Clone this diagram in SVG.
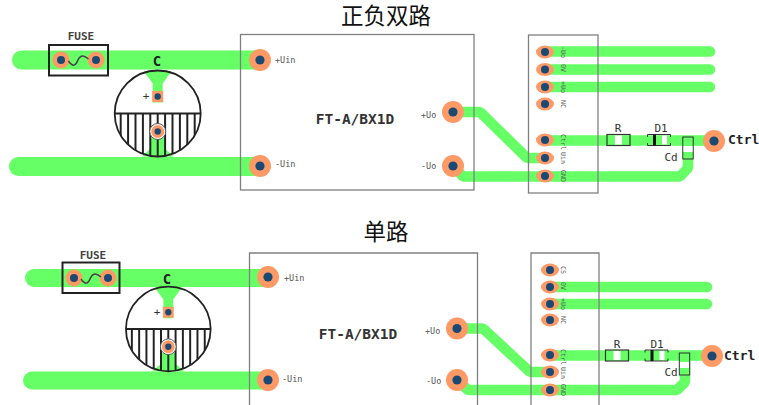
<svg xmlns="http://www.w3.org/2000/svg" width="759" height="405" viewBox="0 0 759 405">
<style>
.bg{fill:#fff}
.t{fill:none;stroke:#66ff66;stroke-linecap:round;stroke-linejoin:bevel}
.w19{stroke-width:19}.w18{stroke-width:18}.w10{stroke-width:10.5}
.box{fill:none;stroke:#808080;stroke-width:1.3}
.blk{fill:none;stroke:#222;stroke-width:2}
.title{font-family:"Liberation Sans","Noto Sans CJK SC",sans-serif;font-size:22.5px;fill:#111;text-anchor:middle}
.m{font-family:"DejaVu Sans Mono","Liberation Mono",monospace;fill:#333}
.small{font-size:8.500px;fill:#555}
.pin{font-size:6.600px;fill:#555}
.fuse{font-size:11px;fill:#444;text-anchor:middle;font-weight:bold}
.bold{font-weight:bold;fill:#222}
.ft{font-size:14.500px;font-weight:bold;fill:#333;text-anchor:middle}
.cap{font-size:14px;font-weight:bold;fill:#222;text-anchor:middle}
.lbl{font-size:11px;fill:#333;text-anchor:middle}
.or{fill:#ff9966}.nv{fill:#1a4a73}
</style>
<defs>
<g id="padL"><circle r="11" class="or"/><circle r="4.600" class="nv"/></g>
<g id="padM"><circle r="8.500" class="or"/><circle r="4" class="nv"/></g>
<g id="padO"><ellipse rx="9" ry="6.500" class="or"/><circle r="4" class="nv"/></g>
<g id="fuseWave"><path d="M-10 2C-6 8-3 7-1 2S4-5 10 0" fill="none" stroke="#444" stroke-width="1.500"/></g>
<clipPath id="hatch"><path d="M-43 0H43A43 43 0 0 1-43 0Z"/></clipPath>
<g id="capBody">
<path d="M-14-42.500H14L5-30V-11H-5V-30Z" fill="#66ff66"/>
<path d="M-7 24V35L-16 43H16L7 35V24Z" fill="#66ff66"/>
<circle r="43" fill="none" stroke="#222" stroke-width="1.800"/>
<path d="M-43 0H43" stroke="#222" stroke-width="1.800"/>
<path clip-path="url(#hatch)" d="M-37 0V44M-29.600 0V44M-22.200 0V44M-14.800 0V44M-7.400 0V44M0 0V44M7.400 0V44M14.800 0V44M22.200 0V44M29.600 0V44M37 0V44" fill="none" stroke="#222" stroke-width="2"/>
<rect x="-5.500" y="-22.500" width="11" height="11" class="or"/><circle cy="-17" r="3.200" class="nv"/>
<circle cy="18" r="8" fill="#fff" stroke="#555" stroke-width="1"/>
<circle cy="18" r="6.500" class="or"/><circle cy="18" r="3.200" class="nv"/>
</g>
<g id="rPart"><rect x="-11.500" y="-5.500" width="23" height="11" fill="none" stroke="#333" stroke-width="1.200"/><rect x="-3.500" y="-4.500" width="7" height="9" fill="#fff"/></g>
<g id="dPart"><path d="M-7-5.500H-11.500V-3M-11.500 3V5.500H-7M7-5.500H11.500V-3M11.500 3V5.500H7M-7-5.500H7M-7 5.500H7" fill="none" stroke="#333" stroke-width="1"/><rect x="-6" y="-5.500" width="3" height="11" fill="#111"/><rect x="3" y="-4.500" width="5" height="9" fill="#fff"/></g>
<g id="cPart"><rect x="-5.200" y="-11" width="10.400" height="22" fill="none" stroke="#333" stroke-width="1"/><rect x="-4.500" y="-2" width="9" height="6" fill="#fff"/></g>
</defs>
<rect class="bg" width="759" height="405"/>
<text class="title" x="386" y="24">正负双路</text>
<text class="title" x="386" y="240">单路</text>

<g id="connectors">
<path class="t w19" d="M21.500 60H260"/>
<path class="t w19" d="M18.500 166.500H260"/>
<path class="t w10" d="M453 112H480L527 158H545"/>
<path class="t w10" d="M453 166L463 176.500H680L688 168V141"/>
<path class="t w10" d="M545 51.500H710"/>
<path class="t w10" d="M545 69.500H710"/>
<path class="t w10" d="M545 87H710"/>
<path class="t w10" d="M545 140.500H714"/>
<path class="t w18" d="M34 278H268"/>
<path class="t w18" d="M32 380.500H268"/>
<path class="t w10" d="M457 328.500H483L530 372H550"/>
<path class="t w10" d="M457 380L468 390H677L685 382V356"/>
<path class="t w10" d="M550 287H707"/>
<path class="t w10" d="M550 304H707"/>
<path class="t w10" d="M550 355.500H712"/>
</g>

<g id="fuse-1"><rect class="blk" x="49" y="45" width="59" height="30.500"/><use href="#padM" x="61" y="60"/><use href="#padM" x="96" y="60"/><use href="#fuseWave" x="78.500" y="59"/><text class="m fuse" x="81" y="40">FUSE</text></g>
<g id="cap-1"><use href="#capBody" x="157.700" y="113.500"/><text class="m cap" x="157" y="66">C</text><text class="m lbl" x="146" y="100">+</text></g>
<g id="module-1"><rect class="box" x="240.500" y="34.500" width="233.500" height="155.500"/>
<use href="#padL" x="260" y="60"/><use href="#padL" x="260" y="166"/><use href="#padL" x="453" y="112"/><use href="#padL" x="453" y="166"/>
<text class="m small" x="275" y="63">+Uin</text><text class="m small" x="275" y="167">-Uin</text><text class="m small" x="421" y="118">+Uo</text><text class="m small" x="421" y="169">-Uo</text>
<text class="m ft" x="355" y="124">FT-A/BX1D</text></g>
<g id="header-1"><rect class="box" x="528.500" y="35" width="69.500" height="158"/>
<use href="#padO" x="545" y="52"/><use href="#padO" x="545" y="69.500"/><use href="#padO" x="545" y="87"/><use href="#padO" x="545" y="104"/><use href="#padO" x="545" y="140"/><use href="#padO" x="545" y="158"/><use href="#padO" x="545" y="176"/>
<text class="m pin" transform="translate(561,46) rotate(90)">-Uo</text>
<text class="m pin" transform="translate(561,64) rotate(90)">0V</text>
<text class="m pin" transform="translate(561,81) rotate(90)">+Uo</text>
<text class="m pin" transform="translate(561,100) rotate(90)">NC</text>
<text class="m pin" transform="translate(561,134) rotate(90)">Ctrl</text>
<text class="m pin" transform="translate(561,152) rotate(90)">Uin</text>
<text class="m pin" transform="translate(561,170) rotate(90)">GND</text>
</g>
<g id="r-1"><use href="#rPart" x="618.500" y="140"/><text class="m lbl" x="618" y="132">R</text></g>
<g id="d1-1"><use href="#dPart" x="659" y="140"/><text class="m lbl" x="661" y="132">D1</text></g>
<g id="cd-1"><use href="#cPart" x="688" y="148"/><text class="m lbl" x="671" y="161">Cd</text></g>
<g id="ctrl-1"><use href="#padL" x="714" y="141"/><text class="m bold" font-size="13" x="728" y="144">Ctrl</text></g>

<g id="fuse-2"><rect class="blk" x="62.500" y="262.500" width="57" height="30.500"/><use href="#padM" x="74" y="278"/><use href="#padM" x="108" y="278"/><use href="#fuseWave" x="91" y="277"/><text class="m fuse" x="93" y="259">FUSE</text></g>
<g id="cap-2"><use href="#capBody" transform="translate(168.300,329) scale(.985)"/><text class="m cap" x="167" y="284">C</text><text class="m lbl" x="157" y="316">+</text></g>
<g id="module-2"><path class="box" d="M249.500 405V253H477.500V405"/>
<use href="#padL" x="268" y="277"/><use href="#padL" x="268" y="380"/><use href="#padL" x="457" y="328.500"/><use href="#padL" x="457" y="380"/>
<text class="m small" x="284" y="281">+Uin</text><text class="m small" x="282" y="382">-Uin</text><text class="m small" x="425" y="334">+Uo</text><text class="m small" x="426" y="384">-Uo</text>
<text class="m ft" x="358" y="339">FT-A/BX1D</text></g>
<g id="header-2"><path class="box" d="M531 405V253H599V405"/>
<use href="#padO" x="550" y="270"/><use href="#padO" x="550" y="287"/><use href="#padO" x="550" y="304"/><use href="#padO" x="550" y="320"/><use href="#padO" x="550" y="355"/><use href="#padO" x="550" y="372"/><use href="#padO" x="550" y="390"/>
<text class="m pin" transform="translate(561,266) rotate(90)">CS</text>
<text class="m pin" transform="translate(561,282) rotate(90)">0V</text>
<text class="m pin" transform="translate(561,298) rotate(90)">+Uo</text>
<text class="m pin" transform="translate(561,316) rotate(90)">NC</text>
<text class="m pin" transform="translate(561,349) rotate(90)">Ctrl</text>
<text class="m pin" transform="translate(561,367) rotate(90)">Uin</text>
<text class="m pin" transform="translate(561,384) rotate(90)">GND</text></g>
<g id="r-2"><use href="#rPart" x="617" y="355.500"/><text class="m lbl" x="617" y="348">R</text></g>
<g id="d1-2"><use href="#dPart" x="656.500" y="355.500"/><text class="m lbl" x="657" y="348">D1</text></g>
<g id="cd-2"><use href="#cPart" x="684.500" y="364"/><text class="m lbl" x="671" y="376">Cd</text></g>
<g id="ctrl-2"><use href="#padL" x="712" y="356"/><text class="m bold" font-size="13" x="724" y="360">Ctrl</text></g>
</svg>
